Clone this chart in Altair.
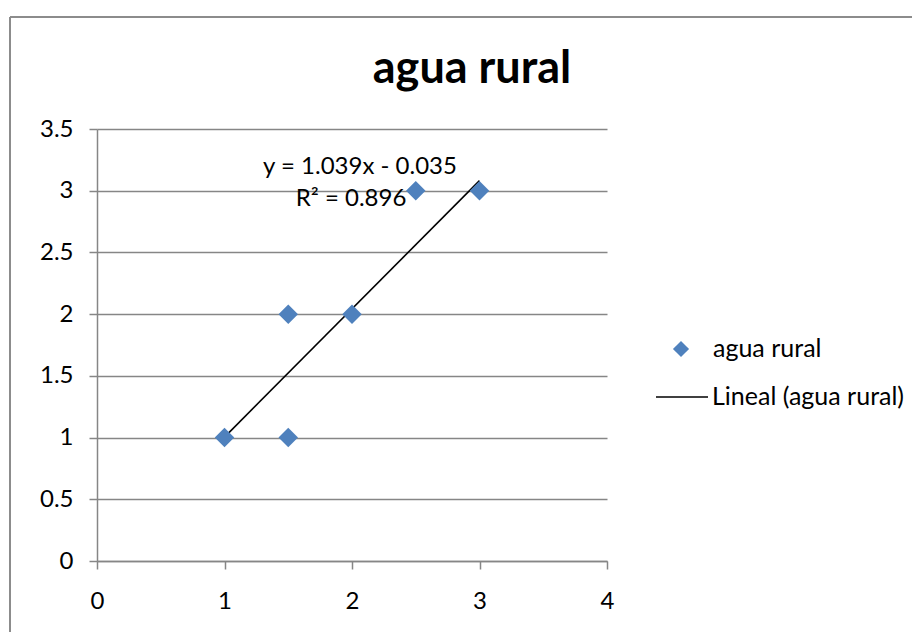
import altair as alt
import pandas as pd

# Data
x_vals = [1, 1.5, 1.5, 2, 2.5, 3]
y_vals = [1, 1, 2, 2, 3, 3]
trend_x = [1, 3]
slope = 1.039
intercept = -0.035
x_ticks = [0, 1, 2, 3, 4]
y_ticks = [0, 0.5, 1, 1.5, 2, 2.5, 3, 3.5]
title_text = "agua rural"
eq_text = "y = 1.039x - 0.035"
r2_text = "R² = 0.896"
legend_labels = ["agua rural", "Lineal (agua rural)"]

FONT = "Lato"
GRAY = "#868686"
BLUE = "#4F81BD"

pts = pd.DataFrame({"x": x_vals, "y": y_vals})
trend = pd.DataFrame({"x": trend_x})

xscale = alt.Scale(domain=[0, 4], nice=False, zero=False)
yscale = alt.Scale(domain=[0, 3.5], nice=False, zero=False)

xaxis = alt.Axis(values=x_ticks, grid=False, title=None, format="~g", domainColor=GRAY, domainWidth=1.5,
                 tickColor=GRAY, tickWidth=1.5, tickSize=8, labelFont=FONT, labelFontSize=24,
                 labelColor="black", labelPadding=20, labelFlush=False)
yaxis = alt.Axis(values=y_ticks, grid=True, gridColor=GRAY, gridWidth=1.5, title=None, format="~g",
                 domainColor=GRAY, domainWidth=1.5, tickColor=GRAY, tickWidth=1.5, tickSize=8,
                 labelFont=FONT, labelFontSize=24, labelColor="black", labelPadding=16,
                 labelFlush=False)

points = alt.Chart(pts).mark_point(shape="diamond", filled=True, color=BLUE, size=380, opacity=1).encode(
    x=alt.X("x:Q", scale=xscale, axis=xaxis),
    y=alt.Y("y:Q", scale=yscale, axis=yaxis),
)

line = alt.Chart(trend).transform_calculate(
    y=f"{slope} * datum.x + ({intercept})"
).mark_line(color="black", strokeWidth=1.6).encode(
    x=alt.X("x:Q", scale=xscale),
    y=alt.Y("y:Q", scale=yscale),
)

one = pd.DataFrame({"a": [0]})

def txt(text, x, y, size=24, weight="normal", align="center"):
    return alt.Chart(one).mark_text(text=text, font=FONT, fontSize=size, fontWeight=weight,
                                     align=align, baseline="middle", color="black").encode(
        x=alt.value(x), y=alt.value(y))

title = txt(title_text, 375, -60, size=45, weight="bold")
eq = txt(eq_text, 263, 38, size=24)
r2 = txt(r2_text, 254, 70, size=24)

leg_diamond = alt.Chart(one).mark_point(shape="diamond", filled=True, color=BLUE, size=260, opacity=1).encode(
    x=alt.value(584), y=alt.value(220))
leg_t1 = txt(legend_labels[0], 616, 220, size=25, align="left")
leg_line = alt.Chart(one).mark_rule(color="black", strokeWidth=1.6).encode(
    x=alt.value(559), x2=alt.value(611), y=alt.value(268))
leg_t2 = txt(legend_labels[1], 615, 268, size=25, align="left")

frame_top = alt.Chart(one).mark_rule(color="#8c8c8c", strokeWidth=2).encode(
    x=alt.value(-87), x2=alt.value(830), y=alt.value(-112))
frame_left = alt.Chart(one).mark_rule(color="#8c8c8c", strokeWidth=2).encode(
    x=alt.value(-87), y=alt.value(-112), y2=alt.value(520))

chart = alt.layer(
    frame_top, frame_left, line, points, title, eq, r2, leg_diamond, leg_t1, leg_line, leg_t2
).properties(
    width=510, height=432,
    autosize=alt.AutoSizeParams(type="none"),
    padding={"left": 89, "top": 121, "right": 305, "bottom": 71},
    background="white",
).configure_view(stroke=None)

chart.save("out.html", embed_options={"renderer": "svg", "actions": False})
